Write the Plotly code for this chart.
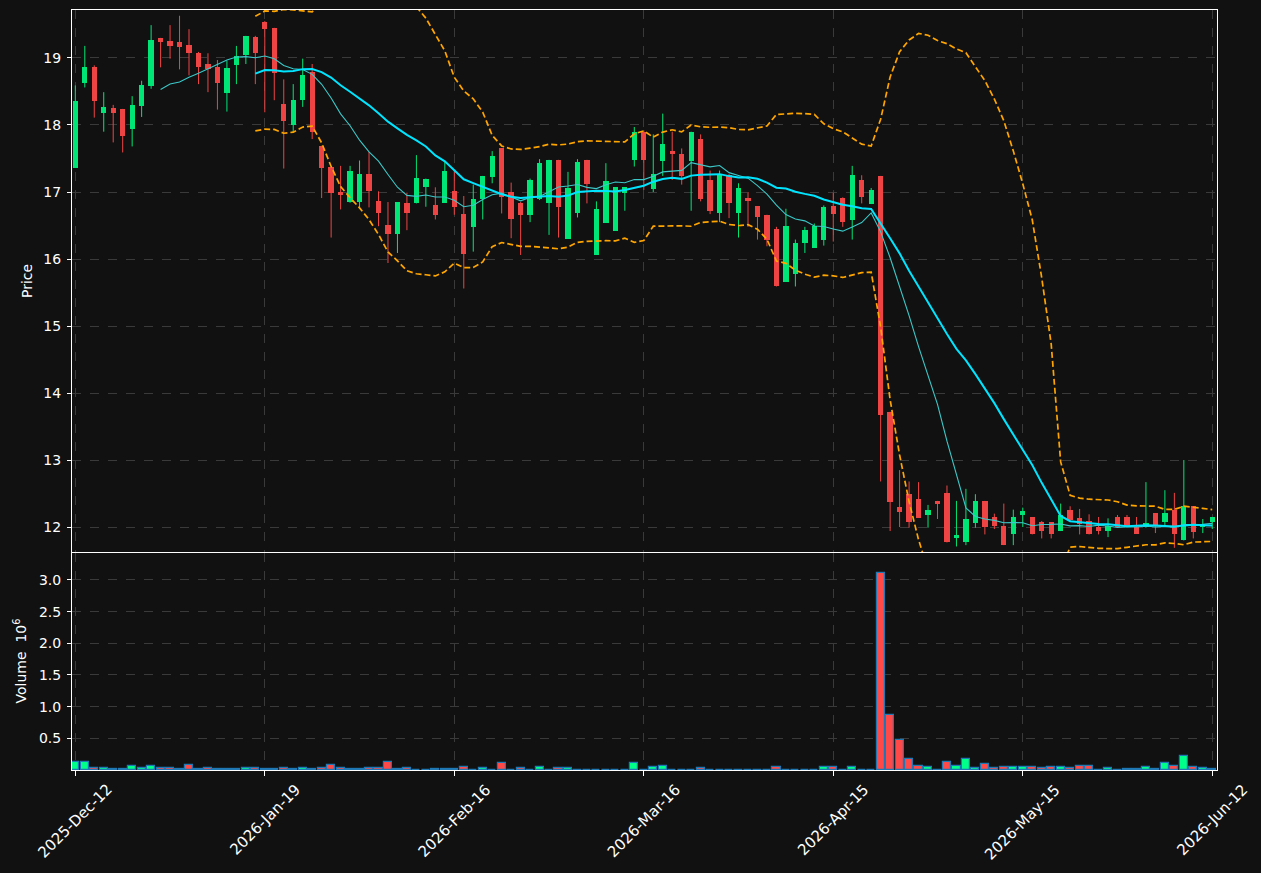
import pandas as pd
import plotly.graph_objects as go
from plotly.subplots import make_subplots

# ---------------- data ----------------
opens = [17.36, 18.62, 18.87, 18.18, 18.25, 18.24, 17.94, 18.29, 18.58, 19.30,
         19.25, 19.24, 19.19, 19.07, 18.91, 18.87, 18.48, 18.90, 19.04, 19.31,
         19.53, 19.45, 18.31, 18.00, 18.38, 18.79, 17.69, 17.37, 17.00, 16.85,
         16.85, 17.27, 16.87, 16.51, 16.38, 16.84, 16.83, 17.08, 16.81, 16.84,
         17.01, 16.67, 16.48, 16.89, 17.23, 17.65, 17.00, 16.83, 16.66, 16.90,
         16.84, 17.48, 16.30, 16.68, 17.48, 16.06, 16.54, 16.42, 16.99, 17.48,
         17.90, 17.04, 17.47, 17.61, 17.57, 17.47, 17.79, 17.18, 16.68, 17.25,
         16.68, 16.91, 16.79, 16.66, 16.45, 15.66, 15.77, 16.24, 16.17, 16.29,
         16.79, 16.91, 16.58, 17.18, 16.82, 17.24, 13.72, 12.30, 12.49, 12.42,
         12.18, 12.39, 12.51, 11.84, 11.78, 12.06, 12.39, 12.15, 12.02, 11.90,
         12.18, 12.15, 12.07, 12.07, 11.94, 12.25, 12.13, 12.09, 12.00, 11.94,
         12.15, 12.15, 12.00, 12.00, 12.21, 12.08, 12.25, 11.80, 12.31, 12.00,
         12.08]
highs = [18.59, 19.18, 18.89, 18.49, 18.30, 18.24, 18.43, 18.66, 19.49, 19.30,
         19.49, 19.63, 19.43, 19.09, 19.07, 18.97, 18.96, 19.18, 19.33, 19.33,
         19.55, 19.45, 18.68, 18.61, 18.99, 18.91, 17.69, 17.37, 17.39, 17.39,
         17.47, 17.60, 17.01, 16.85, 16.85, 16.99, 17.55, 17.20, 17.07, 17.45,
         17.33, 16.94, 17.11, 17.24, 17.61, 17.65, 17.14, 16.85, 17.20, 17.49,
         17.48, 17.48, 17.30, 17.49, 17.48, 16.86, 17.43, 17.07, 17.07, 17.97,
         17.92, 17.86, 18.17, 17.90, 17.65, 17.90, 17.86, 17.32, 17.32, 17.27,
         17.13, 17.00, 16.79, 16.66, 16.48, 16.75, 16.29, 16.48, 16.53, 16.80,
         16.99, 16.92, 17.39, 17.25, 17.06, 17.24, 13.72, 12.85, 12.68, 12.67,
         12.33, 12.39, 12.62, 12.39, 12.57, 12.49, 12.39, 12.20, 12.35, 12.26,
         12.29, 12.15, 12.09, 12.07, 12.35, 12.31, 12.27, 12.19, 12.15, 12.13,
         12.18, 12.18, 12.15, 12.67, 12.21, 12.55, 12.51, 13.00, 12.31, 12.12,
         12.15]
lows = [17.36, 18.56, 18.11, 17.90, 17.74, 17.59, 17.68, 18.12, 18.54, 18.86,
        18.99, 18.83, 18.74, 18.61, 18.49, 18.23, 18.20, 18.61, 18.91, 18.61,
        18.19, 18.37, 17.35, 17.89, 18.27, 17.79, 16.91, 16.32, 16.74, 16.84,
        16.77, 16.77, 16.49, 15.94, 16.09, 16.43, 16.83, 16.78, 16.59, 16.84,
        16.66, 15.56, 16.11, 16.59, 17.13, 16.68, 16.31, 16.06, 16.55, 16.88,
        16.36, 16.32, 16.30, 16.62, 16.83, 16.06, 16.54, 16.42, 16.72, 17.38,
        17.03, 17.00, 17.24, 17.18, 17.11, 16.72, 16.86, 16.67, 16.55, 16.61,
        16.32, 16.48, 16.29, 16.19, 15.59, 15.66, 15.59, 16.09, 16.17, 16.20,
        16.26, 16.48, 16.29, 16.83, 16.82, 12.68, 11.94, 12.00, 11.99, 12.14,
        11.99, 12.12, 11.77, 11.71, 11.73, 11.99, 11.89, 11.97, 11.73, 11.73,
        12.00, 11.89, 11.83, 11.83, 11.94, 12.09, 11.89, 11.89, 11.89, 11.85,
        12.00, 12.00, 11.90, 11.99, 11.91, 12.00, 11.69, 11.80, 11.83, 11.91,
        11.97]
closes = [18.36, 18.87, 18.36, 18.27, 18.18, 17.84, 18.30, 18.60, 19.27, 19.24,
          19.18, 19.17, 19.08, 18.86, 18.84, 18.62, 18.85, 19.03, 19.33, 19.08,
          19.43, 18.77, 18.06, 18.37, 18.75, 17.89, 17.36, 16.99, 16.96, 17.31,
          17.27, 17.02, 16.68, 16.38, 16.85, 16.68, 17.21, 17.20, 16.66, 17.31,
          16.77, 16.07, 16.90, 17.24, 17.54, 16.93, 16.60, 16.66, 17.18, 17.43,
          17.48, 16.78, 17.06, 17.45, 17.12, 16.75, 17.17, 17.07, 17.07, 17.90,
          17.48, 17.27, 17.72, 17.56, 17.24, 17.90, 16.89, 16.72, 17.27, 16.84,
          17.06, 16.86, 16.62, 16.29, 15.59, 16.49, 16.24, 16.43, 16.50, 16.78,
          16.67, 16.55, 17.25, 16.93, 17.03, 13.67, 12.38, 12.23, 12.07, 12.14,
          12.25, 12.35, 11.77, 11.88, 12.12, 12.39, 12.00, 12.02, 11.73, 12.15,
          12.24, 11.90, 11.94, 11.90, 12.18, 12.11, 12.04, 11.89, 11.94, 12.02,
          12.00, 12.02, 11.90, 12.06, 12.02, 12.21, 11.90, 12.31, 11.93, 12.04,
          12.15]
volumes_m = [0.13, 0.12, 0.037, 0.037, 0.01, 0.02, 0.058, 0.037, 0.058, 0.037,
             0.037, 0.02, 0.073, 0.02, 0.037, 0.01, 0.02, 0.02, 0.037, 0.037,
             0.01, 0.02, 0.037, 0.02, 0.037, 0.02, 0.037, 0.073, 0.037, 0.02,
             0.01, 0.037, 0.037, 0.12, 0.02, 0.037, 0.005, 0.003, 0.02, 0.02,
             0.02, 0.04, 0.005, 0.025, 0.005, 0.105, 0.005, 0.025, 0.005, 0.04,
             0.005, 0.025, 0.025, 0.005, 0.005, 0.005, 0.005, 0.005, 0.0, 0.105,
             0.005, 0.04, 0.058, 0.005, 0.005, 0.005, 0.025, 0.005, 0.005, 0.005,
             0.005, 0.005, 0.005, 0.005, 0.04, 0.005, 0.005, 0.005, 0.005, 0.04,
             0.04, 0.005, 0.04, 0.005, 0.005, 3.105, 0.87, 0.48, 0.18, 0.065,
             0.05, 0.005, 0.13, 0.06, 0.18, 0.03, 0.10, 0.03, 0.04, 0.04,
             0.04, 0.04, 0.025, 0.04, 0.04, 0.025, 0.06, 0.06, 0.005, 0.025,
             0.005, 0.02, 0.02, 0.04, 0.02, 0.11, 0.06, 0.22, 0.04, 0.025,
             0.01]
tick_idx = [0, 20, 40, 60, 80, 100, 120]
tick_labels = ["2025-Dec-12", "2026-Jan-19", "2026-Feb-16", "2026-Mar-16",
               "2026-Apr-15", "2026-May-15", "2026-Jun-12"]
price_ticks = [12, 13, 14, 15, 16, 17, 18, 19]
volume_ticks = [0.5, 1.0, 1.5, 2.0, 2.5, 3.0]
price_title = "Price"
volume_title = "Volume  10<sup>6</sup>"

# ---------------- derived ----------------
n = len(closes)
idx = list(range(n))
cs = pd.Series(closes)
ma10 = cs.rolling(10).mean()
ma20 = cs.rolling(20).mean()
sd20 = cs.rolling(20).std()
bb_up = ma20 + 2 * sd20
bb_lo = ma20 - 2 * sd20

UP = "#00e676"
DOWN = "#ef4444"
VUP = "#00ff88"
VDOWN = "#ff4848"
BG = "#111111"
GRID = "#3a3a3a"
FONT = "DejaVu Sans"

is_up = [c >= o for o, c in zip(opens, closes)]

fig = make_subplots(rows=2, cols=1, shared_xaxes=True, vertical_spacing=0.0)

# wicks
for up_flag, col in ((True, UP), (False, DOWN)):
    wx, wy = [], []
    for i in idx:
        if is_up[i] == up_flag:
            wx += [i, i, None]
            wy += [lows[i], highs[i], None]
    fig.add_trace(go.Scatter(x=wx, y=wy, mode="lines",
                             line=dict(color=col, width=1),
                             hoverinfo="skip", showlegend=False), row=1, col=1)

# bodies
body_base = [min(o, c) for o, c in zip(opens, closes)]
body_h = [max(abs(c - o), 0.012) for o, c in zip(opens, closes)]
fig.add_trace(go.Bar(x=idx, y=body_h, base=body_base, width=0.56,
                     marker=dict(color=[UP if u else DOWN for u in is_up], line=dict(width=0)),
                     hoverinfo="skip", showlegend=False), row=1, col=1)

# moving averages and bands
fig.add_trace(go.Scatter(x=idx, y=ma10, mode="lines",
                         line=dict(color="#3cc8c8", width=1.1),
                         hoverinfo="skip", showlegend=False), row=1, col=1)
fig.add_trace(go.Scatter(x=idx, y=ma20, mode="lines",
                         line=dict(color="#00e5ff", width=2),
                         hoverinfo="skip", showlegend=False), row=1, col=1)
for band in (bb_up, bb_lo):
    fig.add_trace(go.Scatter(x=idx, y=band, mode="lines",
                             line=dict(color="#ffa500", width=1.7, dash="6px,3px"),
                             hoverinfo="skip", showlegend=False), row=1, col=1)

# volume
fig.add_trace(go.Bar(x=idx, y=volumes_m, width=0.86,
                     marker=dict(color=[VUP if u else VDOWN for u in is_up],
                                 line=dict(color="#1f77b4", width=1.2)),
                     hoverinfo="skip", showlegend=False), row=2, col=1)

axis_common = dict(showline=True, linecolor="white", linewidth=1, mirror=True,
                   showgrid=True, gridcolor=GRID, griddash="dash", gridwidth=1,
                   zeroline=False, tickcolor="white", ticks="outside", ticklen=4,
                   automargin=False,
                   tickfont=dict(color="white", size=14, family=FONT))

fig.update_xaxes(range=[-0.35, 120.5], tickvals=tick_idx, ticktext=tick_labels, **axis_common)
fig.update_xaxes(showticklabels=False, ticks="", row=1, col=1)
fig.update_xaxes(showticklabels=False, ticklen=5, row=2, col=1)

fig.update_yaxes(ticklabelstandoff=3, **axis_common)
fig.update_yaxes(range=[11.627, 19.716], tickvals=price_ticks,
                 domain=[0.2868, 1.0], row=1, col=1)
fig.update_yaxes(range=[0, 3.425], tickvals=volume_ticks, tickformat=".1f",
                 domain=[0.0, 0.2855], row=2, col=1)

# axis titles (placed as rotated annotations, centred on each panel)
fig.add_annotation(x=-0.0393, y=(0.2868 + 1.0) / 2, xref="paper", yref="paper",
                   text=price_title, showarrow=False, textangle=-90,
                   xanchor="center", yanchor="middle",
                   font=dict(color="white", size=14, family=FONT))
fig.add_annotation(x=-0.0454, y=0.2855 / 2, xref="paper", yref="paper",
                   text=volume_title, showarrow=False, textangle=-90,
                   xanchor="center", yanchor="middle",
                   font=dict(color="white", size=14, family=FONT))

# date labels, rotated 45 degrees and centred under their ticks
for tv, tl in zip(tick_idx, tick_labels):
    fig.add_annotation(x=tv, y=0, xref="x2", yref="paper", text=tl, showarrow=False,
                       textangle=-45, xanchor="center", yanchor="top", yshift=-8,
                       font=dict(color="white", size=15, family=FONT))

fig.update_layout(width=1261, height=873, autosize=False,
                  margin=dict(l=72, r=44, t=10, b=103),
                  paper_bgcolor=BG, plot_bgcolor=BG,
                  font=dict(family=FONT, color="white", size=14),
                  showlegend=False, bargap=0, hovermode=False)

fig.write_html("out.html")
